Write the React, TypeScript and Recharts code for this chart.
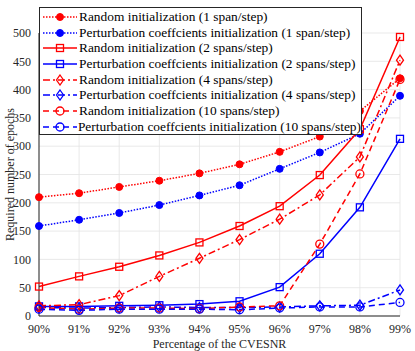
import React from "react";
import { LineChart, Line, XAxis, YAxis, CartesianGrid } from "recharts";

const categories = ["90%", "91%", "92%", "93%", "94%", "95%", "96%", "97%", "98%", "99%"];
const rand1 = [210, 217, 228, 239, 252, 268, 290, 317, 362, 420];
const pert1 = [159, 170, 182, 196, 213, 231, 260, 289, 322, 389];
const rand2 = [52, 70, 87, 107, 130, 159, 194, 249, 330, 493];
const pert2 = [17, 17, 18, 19, 21, 26, 51, 110, 192, 313];
const rand4 = [18, 20, 36, 70, 102, 135, 171, 214, 281, 452];
const pert4 = [15, 14, 15, 16, 15, 15, 16, 18, 19, 46];
const rand10 = [15, 12, 14, 14, 13, 16, 18, 127, 251, 418];
const pert10 = [12, 10, 12, 12, 12, 11, 14, 16, 16, 24];
const yTicks = [0, 50, 100, 150, 200, 250, 300, 350, 400, 450, 500];

const RED = "#ff0000";
const BLUE = "#0000ff";
const FONT = "'Times New Roman', 'Liberation Serif', Times, serif";

type Marker = "dot" | "square" | "diamond" | "circle";

const series = [
  { key: "r1", data: rand1, color: RED, dash: "1.5 1.5", marker: "dot" as Marker, name: "Random initialization (1 span/step)" },
  { key: "p1", data: pert1, color: BLUE, dash: "1.5 1.5", marker: "dot" as Marker, name: "Perturbation coeffcients initialization (1 span/step)" },
  { key: "r2", data: rand2, color: RED, dash: "", marker: "square" as Marker, name: "Random initialization (2 spans/step)" },
  { key: "p2", data: pert2, color: BLUE, dash: "", marker: "square" as Marker, name: "Perturbation coeffcients initialization (2 spans/step)" },
  { key: "r4", data: rand4, color: RED, dash: "7 3 2 3", marker: "diamond" as Marker, name: "Random initialization (4 spans/step)" },
  { key: "p4", data: pert4, color: BLUE, dash: "7 3 2 3", marker: "diamond" as Marker, name: "Perturbation coeffcients initialization (4 spans/step)" },
  { key: "r10", data: rand10, color: RED, dash: "6 4", marker: "circle" as Marker, name: "Random initialization (10 spans/step)" },
  { key: "p10", data: pert10, color: BLUE, dash: "6 4", marker: "circle" as Marker, name: "Perturbation coeffcients initialization (10 spans/step)" },
];

const chartData = categories.map((c, i) => {
  const row: Record<string, string | number> = { cat: c };
  series.forEach((s) => {
    row[s.key] = s.data[i];
  });
  return row;
});

function drawMarker(marker: Marker, cx: number, cy: number, color: string, key?: string) {
  if (marker === "dot") return <circle key={key} cx={cx} cy={cy} r={3.5} fill={color} stroke={color} />;
  if (marker === "square")
    return <rect key={key} x={cx - 3.5} y={cy - 3.5} width={7} height={7} fill="none" stroke={color} strokeWidth={1.3} />;
  if (marker === "diamond")
    return (
      <polygon
        key={key}
        points={`${cx},${cy - 5} ${cx + 3.5},${cy} ${cx},${cy + 5} ${cx - 3.5},${cy}`}
        fill="none"
        stroke={color}
        strokeWidth={1.3}
      />
    );
  return <circle key={key} cx={cx} cy={cy} r={4} fill="none" stroke={color} strokeWidth={1.3} />;
}

function makeDot(marker: Marker, color: string) {
  return (props: any) => drawMarker(marker, props.cx, props.cy, color, `${marker}-${color}-${props.index}`);
}

function LegendBox() {
  return (
    <div
      style={{
        position: "absolute",
        left: 39,
        top: 7,
        width: 323,
        height: 128,
        background: "#fff",
        border: "1px solid #262626",
        boxSizing: "border-box",
        paddingTop: 1,
        fontFamily: FONT,
        fontSize: 13.4,
        color: "#000",
      }}
    >
      {series.map((s) => (
        <div key={s.key} style={{ display: "flex", alignItems: "center", height: 15.7, whiteSpace: "nowrap" }}>
          <svg width={36} height={12} style={{ marginLeft: 2, marginRight: 1 }}>
            <line x1={1} y1={6} x2={35} y2={6} stroke={s.color} strokeWidth={1.5} strokeDasharray={s.dash || undefined} />
            {drawMarker(s.marker, 18, 6, s.color)}
          </svg>
          <span>{s.name}</span>
        </div>
      ))}
    </div>
  );
}

export default function App() {
  return (
    <div style={{ position: "absolute", left: 0, top: 0, width: 415, height: 351, background: "#fff" }}>
      <LineChart width={415} height={351} data={chartData} margin={{ top: 33, right: 15, left: 0, bottom: 0 }}>
        <CartesianGrid stroke="#e3e3e3" strokeWidth={0.8} />
        <XAxis
          dataKey="cat"
          height={35}
          tickLine={false}
          stroke="#262626"
          tick={{ fontFamily: FONT, fontSize: 12, fill: "#262626" }}
          interval={0}
          label={{ value: "Percentage of the CVESNR", position: "insideBottom", offset: 3, style: { fontFamily: FONT, fontSize: 12, fill: "#262626" } }}
        />
        <XAxis xAxisId="top" dataKey="cat" orientation="top" height={0} tick={false} tickLine={false} stroke="#262626" />
        <YAxis
          width={39}
          domain={[0, 500]}
          ticks={yTicks}
          tickLine={false}
          stroke="#262626"
          tick={{ fontFamily: FONT, fontSize: 12, fill: "#262626" }}
          label={{
            value: "Required number of epochs",
            angle: -90,
            position: "insideLeft",
            offset: 10,
            style: { fontFamily: FONT, fontSize: 12, fill: "#262626", textAnchor: "middle" },
          }}
        />
        <YAxis yAxisId="right" orientation="right" width={0} domain={[0, 500]} tick={false} tickLine={false} stroke="#262626" />
        {series.map((s) => (
          <Line
            key={s.key}
            dataKey={s.key}
            type="linear"
            stroke={s.color}
            strokeWidth={1.5}
            strokeDasharray={s.dash || undefined}
            dot={makeDot(s.marker, s.color)}
            activeDot={false}
            isAnimationActive={false}
          />
        ))}
      </LineChart>
      <LegendBox />
    </div>
  );
}
